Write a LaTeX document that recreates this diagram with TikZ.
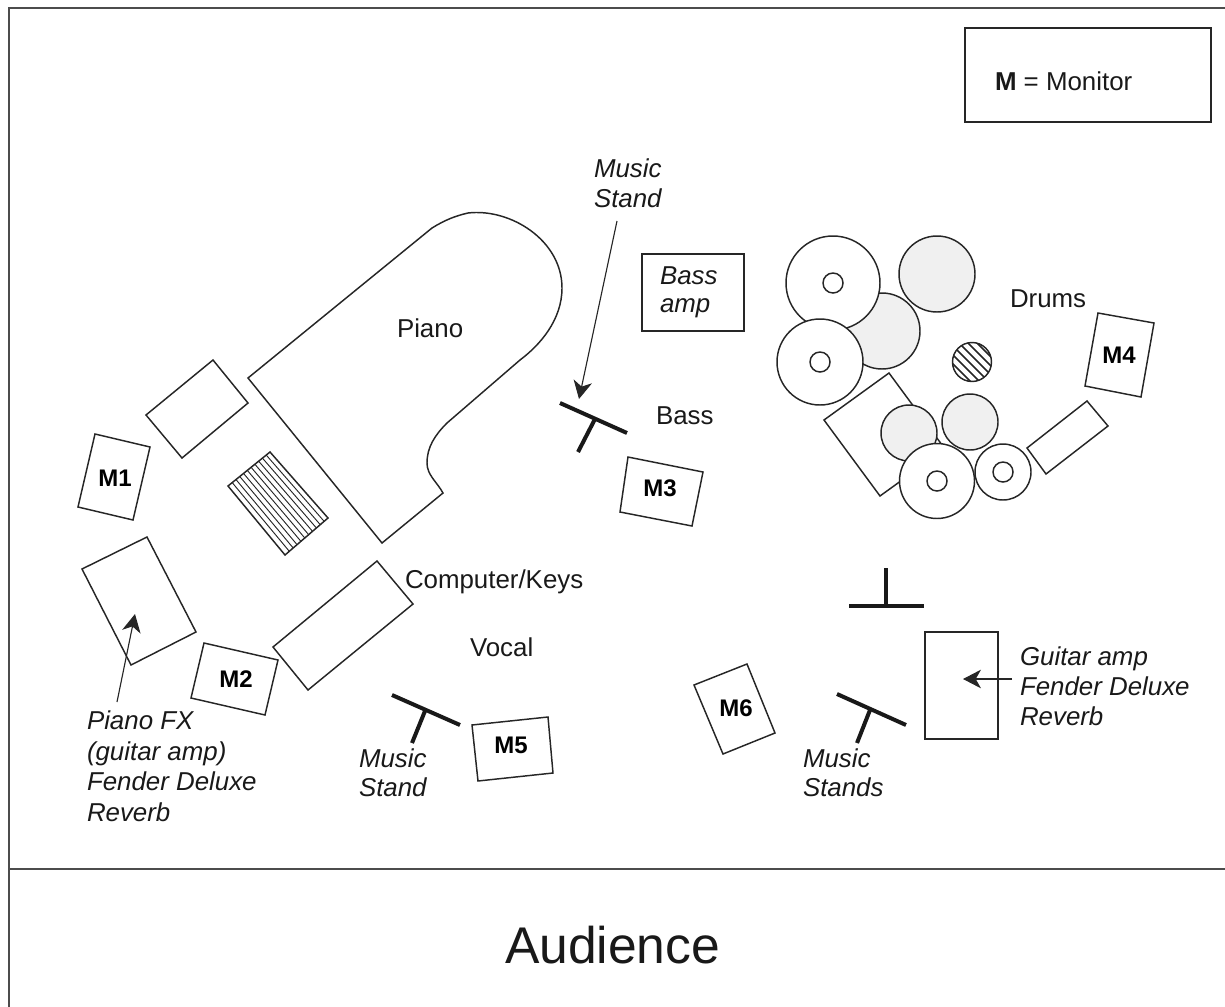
\documentclass[tikz,border=0pt]{standalone}
\usepackage{fontspec}
\setmainfont{Liberation Sans}
\usetikzlibrary{arrows.meta,calc}
\tikzset{
  shape line/.style={draw=black!85, line width=1.1pt, line join=miter},
  box/.style={shape line, fill=white},
  frame line/.style={draw=black!70, line width=1.6pt},
  stand/.style={draw=black!90, line width=3pt},
  pointer/.style={draw=black!85, line width=0.85pt, -{Stealth[length=13.5pt,width=14pt,inset=4pt]}},
  tlabel/.style={anchor=base west, inner sep=0pt, outer sep=0pt, font=\fontsize{19.4}{23}\selectfont, text=black!90},
  ilabel/.style={tlabel, font=\fontsize{19.4}{23}\selectfont\itshape},
  mlabel/.style={anchor=center, inner sep=0pt, font=\fontsize{18}{21}\selectfont\bfseries, text=black},
  cymbal/.style={shape line, fill=white},
  graydrum/.style={shape line, fill=black!6},
}
\begin{document}
\begin{tikzpicture}[x=0.75pt,y=-0.75pt]
\useasboundingbox (0,0) rectangle (1225,1007);
% stage frame
\draw[frame line] (9,1007) -- (9,8) -- (1225,8);
\draw[frame line] (9,869) -- (1225,869);
% legend
\draw[shape line] (965,28) rectangle (1211,122);
\node[tlabel] (legend) at (995,90) {\textbf{M} = Monitor};
% piano
\draw[shape line] (248,378) -- (432,228)
  .. controls (445,220) and (455,216) .. (468,213)
  .. controls (510,208) and (562,240) .. (562,288)
  .. controls (562,320) and (540,345) .. (520,360)
  -- (447,423)
  .. controls (435,435) and (427,447) .. (427,463)
  .. controls (427,475) and (437,482) .. (443,493)
  -- (382,543) -- cycle;
\node[tlabel] (piano) at (397,337) {Piano};
% bench and keys
\draw[shape line] (213,360) -- (248,403) -- (182,458) -- (146,415) -- cycle;
\coordinate (ha) at (270,452);
\coordinate (hb) at (328,518);
\coordinate (hc) at (285,555);
\coordinate (hd) at (228,486);
\draw[shape line] (ha) -- (hb) -- (hc) -- (hd) -- cycle;
\foreach \t in {0.09,0.18,...,0.95}{
  \draw[draw=black!85, line width=0.7pt] ($(ha)!\t!(hd)$) -- ($(hb)!\t!(hc)$);
}
% monitors
\draw[shape line] (95,434) -- (150,447) -- (133,520) -- (78,507) -- cycle;
\node[mlabel] (m1) at (115,478) {M1};
\draw[shape line] (204,643) -- (278,660) -- (265,715) -- (191,698) -- cycle;
\node[mlabel] (m2) at (236,679) {M2};
\draw[shape line] (628,457) -- (703,472) -- (692,526) -- (620,512) -- cycle;
\node[mlabel] (m3) at (660,488) {M3};
\draw[shape line] (1098,313) -- (1154,323) -- (1141,397) -- (1085,386) -- cycle;
\node[mlabel] (m4) at (1119,355) {M4};
\draw[shape line] (472,725) -- (548,717) -- (553,773) -- (478,781) -- cycle;
\node[mlabel] (m5) at (511,745) {M5};
\draw[shape line] (747,664) -- (775,733) -- (723,754) -- (694,685) -- cycle;
\node[mlabel] (m6) at (736,708) {M6};
% piano fx amp
\draw[shape line] (147,537) -- (196,632) -- (131,665) -- (82,569) -- cycle;
\coordinate (fxfrom) at (117,702);
\coordinate (fxto) at (135,614);
\draw[pointer] (fxfrom) -- (fxto);
\node[ilabel] (fx1) at (87,729) {Piano FX};
\node[ilabel] (fx2) at (87,760) {(guitar amp)};
\node[ilabel] (fx3) at (87,790) {Fender Deluxe};
\node[ilabel] (fx4) at (87,821) {Reverb};
% computer keys
\draw[shape line] (377,561) -- (413,604) -- (308,690) -- (273,647) -- cycle;
\node[tlabel] (comp) at (405,588) {Computer/Keys};
\node[tlabel] (vocal) at (470,656) {Vocal};
% stand: vocal
\draw[stand] (392,695) -- (460,725);
\draw[stand] (425,711) -- (412,743);
\node[ilabel] (ms1a) at (359,767) {Music};
\node[ilabel] (ms1b) at (359,796) {Stand};
% stand: bass
\draw[stand] (560,403) -- (627,433);
\draw[stand] (595,419) -- (578,452);
\coordinate (msfrom) at (617,221);
\coordinate (msto) at (579,399);
\draw[pointer] (msfrom) -- (msto);
\node[ilabel] (ms2a) at (594,177) {Music};
\node[ilabel] (ms2b) at (594,207) {Stand};
\node[tlabel] (bass) at (656,424) {Bass};
% bass amp
\draw[shape line] (642,254) rectangle (744,331);
\node[ilabel] (ba1) at (660,284) {Bass};
\node[ilabel] (ba2) at (660,312) {amp};
% drums
\draw[box] (889,373) -- (945,449) -- (880,496) -- (824,420) -- cycle;
\draw[graydrum] (937,274) circle (38);
\draw[graydrum] (882,331) circle (38);
\draw[cymbal] (833,283) circle (47);
\draw[cymbal] (833,283) circle (10);
\draw[cymbal] (820,362) circle (43);
\draw[cymbal] (820,362) circle (10);
\begin{scope}
  \clip (972,362) circle (19.5);
  \foreach \d in {-30,-21,...,30}{
    \draw[draw=black!85, line width=1.1pt] (972+\d-30,362-30) -- (972+\d+30,362+30);
  }
\end{scope}
\draw[shape line] (972,362) circle (19.5);
\draw[graydrum] (909,433) circle (28);
\draw[graydrum] (970,422) circle (28);
\draw[cymbal] (937,481) circle (37.5);
\draw[cymbal] (937,481) circle (10);
\draw[cymbal] (1003,472) circle (28);
\draw[cymbal] (1003,472) circle (10);
\draw[shape line] (1087,401) -- (1108,426) -- (1046,474) -- (1027,448) -- cycle;
\node[tlabel] (drums) at (1010,307) {Drums};
% stand: top right
\draw[stand] (886,568) -- (886,606);
\draw[stand] (849,606) -- (924,606);
% stand: guitar
\draw[stand] (837,694) -- (906,725);
\draw[stand] (870,710) -- (857,743);
\node[ilabel] (ms3a) at (803,767) {Music};
\node[ilabel] (ms3b) at (803,796) {Stands};
% guitar amp
\draw[shape line] (925,632) rectangle (998,739);
\coordinate (gfrom) at (1012,679);
\coordinate (gto) at (963,679);
\draw[pointer] (gfrom) -- (gto);
\node[ilabel] (ga1) at (1020,665) {Guitar amp};
\node[ilabel] (ga2) at (1020,695) {Fender Deluxe};
\node[ilabel] (ga3) at (1020,725) {Reverb};
% audience
\node[tlabel, font=\fontsize{38.7}{46}\selectfont] (aud) at (505,963) {Audience};
\end{tikzpicture}
\end{document}
